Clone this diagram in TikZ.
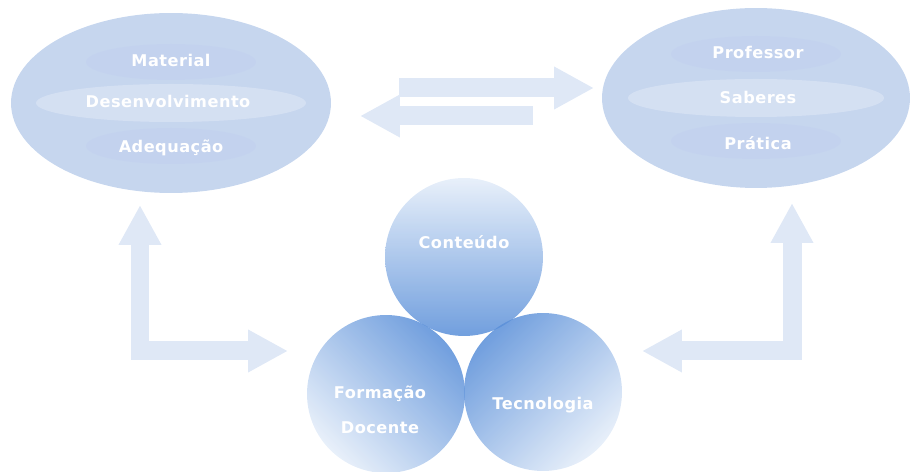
\documentclass[tikz,border=0pt]{standalone}
\usepackage{fontspec}
\newfontfamily\rotulo[LetterSpace=3]{DejaVu Sans}
\usetikzlibrary{shapes.geometric,arrows.meta}
\definecolor{elipcor}{RGB}{198,214,238}
\definecolor{faixacor}{RGB}{222,231,246}
\definecolor{setacor}{RGB}{223,232,246}
\definecolor{circclaro}{RGB}{228,237,249}
\definecolor{circescuro}{RGB}{88,142,216}
\tikzset{
  elipse/.style={ellipse, fill=elipcor, inner sep=0, minimum width=6.4cm, minimum height=3.6cm},
  bola/.style={circle, inner sep=0, minimum size=3.16cm, fill opacity=0.85},
  texto/.style={text=white, font=\rotulo\bfseries\fontsize{9.2}{11}\selectfont},
  seta/.style={draw=setacor, line width=0.38cm, line join=miter, -{Triangle[length=0.8cm,width=0.8cm]}},
  seta2/.style={seta, {Triangle[length=0.8cm,width=0.8cm]}-{Triangle[length=0.8cm,width=0.8cm]}}
}
\begin{document}
\begin{tikzpicture}[x=0.02cm,y=-0.02cm]
  \useasboundingbox (0,0) rectangle (913,472);
  %elipses
  \node[elipse] (elMat) at (171,103) {};
  \node[elipse, minimum width=6.16cm] (elProf) at (756,98) {};
  \fill[faixacor, opacity=0.6] (elMat.center) ellipse [x radius=135, y radius=19];
  \fill[faixacor, opacity=0.6] (elProf.center) ellipse [x radius=128, y radius=19];
  \fill[blue!40, opacity=0.05] (171,62) ellipse [x radius=85, y radius=18];
  \fill[blue!40, opacity=0.05] (171,146) ellipse [x radius=85, y radius=18];
  \fill[blue!40, opacity=0.05] (756,54) ellipse [x radius=85, y radius=18];
  \fill[blue!40, opacity=0.05] (756,141) ellipse [x radius=85, y radius=18];
  \node[texto] (material) at (171,60) {Material};
  \node[texto] (desenv) at (168,101) {Desenvolvimento};
  \node[texto] (adequa) at (171,148) {Adequação};
  \node[texto] (prof) at (758,52) {Professor};
  \node[texto] (saberes) at (758,97) {Saberes};
  \node[texto] (pratica) at (758,143) {Prática};
  %setas
  \coordinate (s1a) at (399,88);
  \coordinate (s1b) at (594,88);
  \coordinate (s2a) at (533,116);
  \coordinate (s2b) at (360,116);
  \draw[seta] (s1a) -- (s1b);
  \draw[seta] (s2a) -- (s2b);
  \coordinate (e1) at (140,205);
  \coordinate (e2) at (288,351);
  \coordinate (d1) at (792,203);
  \coordinate (d2) at (642,351);
  \draw[seta2] (e1) |- (e2);
  \draw[seta2] (d1) |- (d2);
  %circulos
  \node[bola, top color=circclaro, bottom color=circescuro] (cont) at (464,257) {};
  \node[bola, top color=circescuro, bottom color=circclaro, shading angle=-45] (form) at (386,394) {};
  \node[bola, top color=circescuro, bottom color=circclaro, shading angle=45] (tecn) at (543,392) {};
  \node[texto] at (cont.center) [yshift=0.3cm] (conteudo) {Conteúdo};
  \node[texto, align=center] (formacao) at (380,410) {Formação\\[9pt]Docente};
  \node[texto] (tecnologia) at (543,405) {Tecnologia};
\end{tikzpicture}
\end{document}
